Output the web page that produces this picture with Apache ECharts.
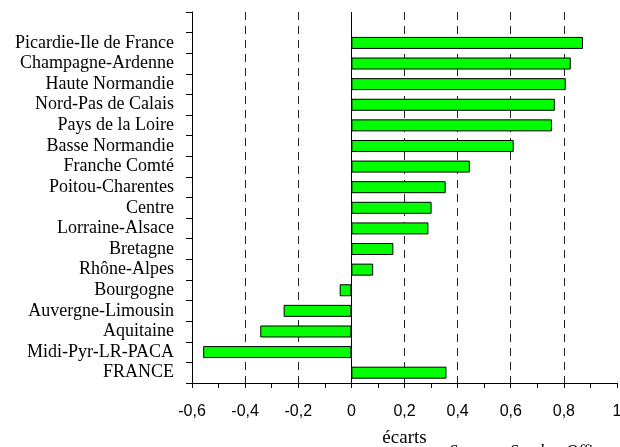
<!DOCTYPE html>
<html>
<head>
<meta charset="utf-8">
<script src="https://cdn.jsdelivr.net/npm/echarts@6/dist/echarts.min.js"></script>
<style>
html,body{margin:0;padding:0;background:#fff;}
#chart{width:620px;height:447px;}
</style>
</head>
<body>
<div id="chart"></div>
<script>
// Categories from bottom to top (first slot at top is empty)
const categories = ['FRANCE','Midi-Pyr-LR-PACA','Aquitaine','Auvergne-Limousin','Bourgogne','Rhône-Alpes','Bretagne','Lorraine-Alsace','Centre','Poitou-Charentes','Franche Comté','Basse Normandie','Pays de la Loire','Nord-Pas de Calais','Haute Normandie','Champagne-Ardenne','Picardie-Ile de France',''];
const ecarts = [0.358,-0.558,-0.343,-0.255,-0.044,0.082,0.158,0.29,0.302,0.355,0.446,0.611,0.755,0.766,0.807,0.826,0.872,null];
const xTickLabels = {'-0.6':'-0,6','-0.4':'-0,4','-0.2':'-0,2','0':'0','0.2':'0,2','0.4':'0,4','0.6':'0,6','0.8':'0,8','1':'1'};
const axisTitle = 'écarts';
const sourceText = 'Source : Sandre, Offices de l\u2019eau';

const chart = echarts.init(document.getElementById('chart'), null, {renderer:'canvas'});
chart.setOption({
  animation:false,
  grid:{left:192,right:3,top:12,bottom:64,containLabel:false,outerBoundsMode:'none'},
  xAxis:{
    type:'value',min:-0.6,max:1,interval:0.2,
    axisLine:{show:true,onZero:false,lineStyle:{color:'#000',width:1}},
    axisTick:{show:true,length:5,lineStyle:{color:'#000'}},
    minorTick:{show:true,splitNumber:2,length:5,lineStyle:{color:'#000'}},
    axisLabel:{margin:21,fontFamily:'Liberation Sans, Arial, sans-serif',fontSize:16,color:'#000',
      formatter:function(v){const k=String(Math.round(v*10)/10);return xTickLabels[k]!==undefined?xTickLabels[k]:k;}},
    splitLine:{show:true,showMinLine:false,showMaxLine:false,lineStyle:{color:'#222',type:[8,6],width:1}},
    name:axisTitle,nameLocation:'middle',nameGap:46,
    nameTextStyle:{fontFamily:'Liberation Serif, Times New Roman, serif',fontSize:19,color:'#000'}
  },
  yAxis:{
    type:'category',data:categories,boundaryGap:true,
    axisLine:{show:true,onZero:false,lineStyle:{color:'#000',width:1}},
    axisTick:{show:true,length:6,inside:false,lineStyle:{color:'#000'}},
    axisLabel:{margin:18,fontFamily:'Liberation Serif, Times New Roman, serif',fontSize:18,color:'#000',interval:0},
    splitLine:{show:false}
  },
  series:[{
    type:'bar',data:ecarts,barWidth:12,
    itemStyle:{color:'#00ff00',borderColor:'#000',borderWidth:1},
    markLine:{silent:true,symbol:'none',label:{show:false},
      lineStyle:{color:'#000',type:'solid',width:1},
      data:[{xAxis:0}]}
  }],
  graphic:[{type:'text',left:449,top:443,
    style:{text:sourceText,font:'italic 17px "Liberation Serif", serif',fill:'#000'}}]
});
</script>
</body>
</html>
